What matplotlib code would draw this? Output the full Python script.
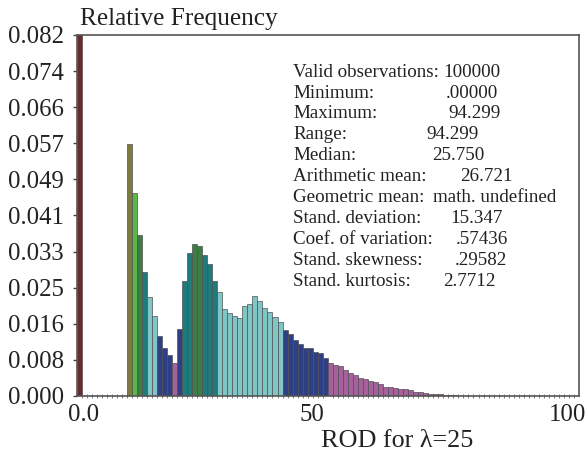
import matplotlib
matplotlib.use("Agg")
import matplotlib.pyplot as plt
import matplotlib.transforms as mtransforms
import numpy as np

# ---------------- data ----------------
bin_left = list(range(0, 100))          # ROD bins of width 1
rel_freq = [
    0.0900, 0, 0, 0, 0, 0, 0, 0, 0, 0,
    0.0572, 0.0460, 0.0365, 0.0281, 0.0224, 0.0182, 0.0137, 0.0108, 0.0092, 0.0076,
    0.0152, 0.0261, 0.0324, 0.0345, 0.0341, 0.0320, 0.0299, 0.0261, 0.0237, 0.0198,
    0.0188, 0.0182, 0.0178, 0.0205, 0.0208, 0.0227, 0.0216, 0.0201, 0.0191, 0.0179,
    0.0167, 0.0149, 0.0141, 0.0128, 0.0117, 0.0109, 0.0109, 0.0100, 0.0097, 0.0087,
    0.0076, 0.0070, 0.0069, 0.0060, 0.0052, 0.0047, 0.0041, 0.0038, 0.0034, 0.0032,
    0.0027, 0.0021, 0.0020, 0.0018, 0.0016, 0.0015, 0.0013, 0.0010, 0.0008, 0.0006,
    0.0005, 0.0005, 0.0004, 0.0003, 0.0002, 0.0002, 0.0001, 0, 0, 0,
    0, 0, 0, 0, 0, 0, 0, 0, 0, 0,
    0, 0, 0, 0, 0, 0, 0, 0, 0, 0,
]
y_step = 0.0082
y_ticks = [i * y_step for i in range(11)]
x_ticks = [0, 50, 100]
x_tick_labels = ["0.0", "50", "100"]

stat_labels = ["Valid observations:", "Minimum:", "Maximum:", "Range:", "Median:",
               "Arithmetic mean:", "Geometric mean:", "Stand. deviation:",
               "Coef. of variation:", "Stand. skewness:", "Stand. kurtosis:"]
stat_values = ["100000", ".00000", "94.299", "94.299", "25.750", "26.721",
               "math. undefined", "15.347", ".57436", ".29582", "2.7712"]

title_text = "Relative Frequency"
xlabel_text = "ROD for \u03bb=25"

# ---------------- style ----------------
class_colors = ["#a6609c", "#2f3f86", "#7fc7c6", "#1f7b7b", "#3f7c44",
                "#5cb74b", "#7e7b40", "#7e7b40", "#7e7b40", "#7e7b40", "#6c2b2b"]

plt.rcParams['font.family'] = ['Liberation Serif', 'DejaVu Serif']
W, H = 587, 463
fig = plt.figure(figsize=(W / 100, H / 100), dpi=100)
ax = fig.add_axes([76.5 / W, 1 - 396 / H, (579 - 76.5) / W, (396 - 35) / H])

colors = [class_colors[min(int(v / y_step), 10)] for v in rel_freq]
ax.bar(bin_left, rel_freq, width=1.0, align='edge', color=colors,
       edgecolor='#505050', linewidth=0.5, zorder=2)

ax.set_xlim(0, 100)
ax.set_ylim(0, y_ticks[-1])

ax.set_yticks(y_ticks)
ax.set_yticklabels([f"{v:.3f}" for v in y_ticks])
ax.set_xticks(x_ticks)
ax.set_xticklabels(x_tick_labels)
ax.set_xticks(np.arange(0, 101, 1), minor=True)

ax.tick_params(axis='y', which='major', direction='out', length=3, width=1,
               color='#444444', labelsize=17.8, pad=6, labelcolor='#222222')
ax.tick_params(axis='x', which='major', length=0, labelsize=17.8, pad=6,
               labelcolor='#222222')
ax.tick_params(axis='x', which='minor', direction='inout', length=3.5, width=0.6,
               color='#666666')

# label offsets to mimic the reference placement
offsets = [7, -16, -12]
for lab, dx in zip(ax.get_xticklabels(), offsets):
    lab.set_transform(lab.get_transform() +
                      mtransforms.ScaledTranslation(dx / 100, 0, fig.dpi_scale_trans))

for sp in ax.spines.values():
    sp.set_color('#555555')
    sp.set_linewidth(1.2)

fig.text(80 / W, 1 - 25 / H, title_text, fontsize=18.3, color='#222222',
         ha='left', va='baseline')
fig.text(397 / W, 1 - 447 / H, xlabel_text, fontsize=18.8, color='#222222',
         ha='center', va='baseline')

value_x = [443.3, 445.7, 448.3, 426.7, 431.7, 460, 433.3, 450, 456, 455, 443.3]
for i, (lab, val) in enumerate(zip(stat_labels, stat_values)):
    yb = 1 - (76.7 + 20.9 * i) / H
    fig.text(293 / W, yb, lab, fontsize=13.7, color='#222222', ha='left', va='baseline')
    fig.text(value_x[i] / W, yb, val, fontsize=13.7, color='#222222', ha='left', va='baseline')

fig.savefig("out.png", dpi=100)
